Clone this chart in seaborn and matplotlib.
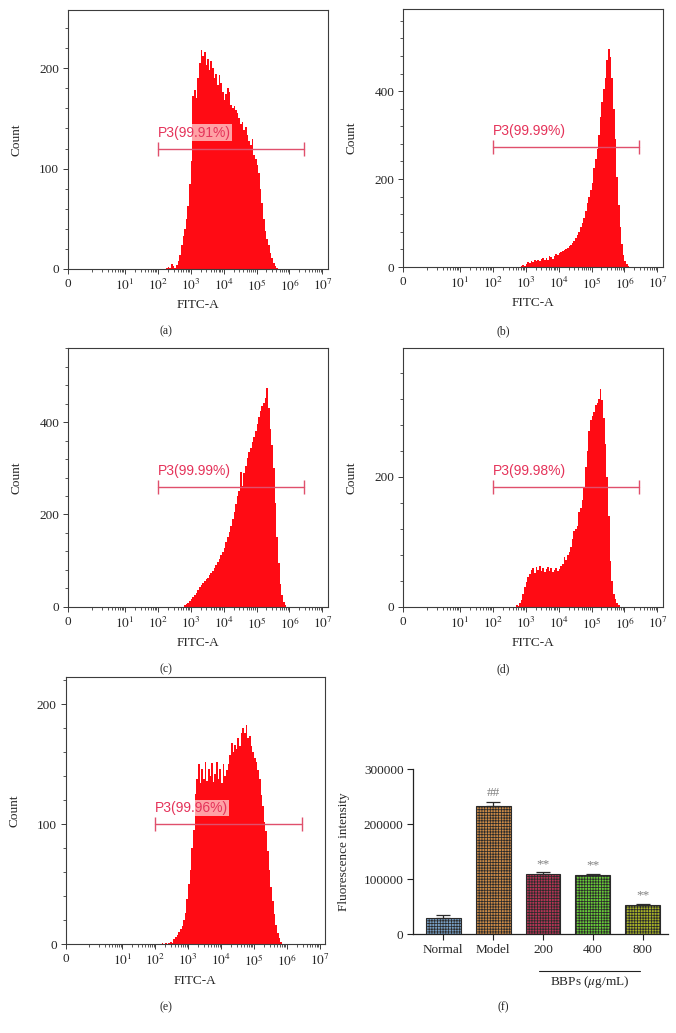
import numpy as np
import matplotlib
matplotlib.use("Agg")
import matplotlib.pyplot as plt
import matplotlib.ticker as mticker
import matplotlib.transforms as mtransforms
import seaborn as sns

# ---------------- data ----------------
# flow histograms: counts per bin, bins are 0.05 decade wide (log10 FITC-A),
# the first bin starts at *_start
bin_step = 0.05

hist_a_start = 2.20
hist_a = [0, 1, 2, 1, 5, 3, 1, 4, 8, 14, 24, 33, 40, 50, 63, 85, 108, 172, 178, 170,
          190, 205, 218, 212, 216, 203, 209, 198, 207, 200, 190, 194, 183, 193, 185,
          176, 168, 174, 180, 176, 163, 160, 162, 158, 155, 150, 144, 146, 138, 141,
          133, 128, 124, 130, 114, 110, 104, 96, 80, 66, 50, 38, 30, 24, 16, 11, 6,
          3, 1, 0]

hist_b_start = 2.80
hist_b = [0, 2, 5, 3, 8, 12, 10, 14, 12, 15, 13, 17, 14, 18, 20, 16, 21, 17, 24, 22,
          19, 26, 30, 27, 32, 34, 36, 38, 41, 43, 47, 50, 55, 60, 66, 72, 80, 90, 100,
          112, 128, 145, 160, 176, 192, 225, 245, 268, 300, 340, 375, 405, 430, 470,
          495, 478, 430, 360, 290, 205, 140, 90, 52, 28, 14, 6, 2, 0]

hist_c_start = 2.75
hist_c = [0, 3, 5, 9, 13, 17, 20, 26, 30, 36, 42, 48, 52, 56, 60, 63, 68, 72, 78, 84,
          90, 96, 104, 112, 118, 128, 140, 152, 162, 175, 190, 205, 222, 240, 250, 292,
          262, 290, 305, 322, 335, 345, 356, 368, 380, 395, 412, 425, 435, 442, 452,
          475, 430, 385, 350, 300, 225, 150, 95, 50, 25, 10, 4, 0]

hist_d_start = 2.65
hist_d = [0, 2, 1, 5, 10, 20, 30, 38, 46, 50, 56, 59, 52, 61, 57, 62, 55, 60, 54, 58,
          61, 55, 59, 54, 57, 60, 55, 58, 62, 66, 76, 72, 80, 84, 92, 104, 116, 120,
          124, 146, 152, 165, 185, 215, 240, 270, 288, 294, 300, 310, 314, 320, 336,
          318, 290, 250, 200, 140, 70, 40, 20, 12, 6, 2, 0]

hist_e_start = 2.15
hist_e = [0, 1, 0, 1, 0, 1, 2, 1, 4, 6, 8, 10, 13, 15, 20, 26, 38, 50, 62, 80, 95,
          125, 138, 150, 134, 146, 138, 152, 136, 146, 140, 151, 135, 142, 152, 138,
          146, 134, 150, 140, 145, 150, 158, 168, 160, 166, 163, 172, 165, 176, 180,
          176, 183, 172, 174, 165, 160, 155, 152, 145, 138, 124, 115, 102, 94, 78, 62,
          48, 36, 25, 16, 9, 5, 2, 0]

gate_labels = ["P3(99.91%)", "P3(99.99%)", "P3(99.99%)", "P3(99.98%)", "P3(99.96%)"]
gate_range = [1e2, 2.8e6]
gate_y = [120, 273, 259, 185, 100]
count_max = [258, 586, 560, 398, 223]
count_major = [[0, 100, 200], [0, 200, 400], [0, 200, 400], [0, 200], [0, 100, 200]]
count_minor = [20, 40, 40, 40, 20]
decade_ticks = [0, 1e1, 1e2, 1e3, 1e4, 1e5, 1e6, 1e7]
decade_labels = ["0", "$10^{1}$", "$10^{2}$", "$10^{3}$", "$10^{4}$",
                 "$10^{5}$", "$10^{6}$", "$10^{7}$"]

# bar chart (f)
groups = ["Normal", "Model", "200", "400", "800"]
intensity = [29000, 232000, 110000, 107000, 53000]
intensity_err = [5000, 9000, 2000, 3000, 2000]
signif = ["", "##", "**", "**", "**"]
bar_colors = ["#6a9fd0", "#e08a30", "#c8204a", "#5ee020", "#b8c810"]
intensity_ticks = [0, 100000, 200000, 300000]

# ---------------- style ----------------
sns.set_style("ticks")
plt.rcParams["font.family"] = ["Liberation Serif", "DejaVu Serif"]
plt.rcParams["mathtext.fontset"] = "stix"
plt.rcParams["hatch.linewidth"] = 0.55

red = "#ff0b14"
gate_col = "#e0506c"
gate_txt = "#e5335a"
spine_col = "#3c3c3c"
fs = 9.5

fig = plt.figure(figsize=(6.76, 10.33), dpi=100)

# axes boxes (left, bottom, width, height) in figure fraction
boxes = [
    [0.1010, 0.7396, 0.3837, 0.2507],
    [0.5966, 0.7415, 0.3837, 0.2495],
    [0.1010, 0.4127, 0.3837, 0.2501],
    [0.5966, 0.4127, 0.3837, 0.2501],
    [0.0972, 0.0859, 0.3836, 0.2590],
]
hists = [(hist_a_start, hist_a), (hist_b_start, hist_b), (hist_c_start, hist_c),
         (hist_d_start, hist_d), (hist_e_start, hist_e)]

minor_pos = [k * 10.0 ** p for p in range(0, 7) for k in range(1, 10) if not (k == 1 and p > 0)]

for i, (start, counts) in enumerate(hists):
    ax = fig.add_axes(boxes[i])

    edges = 10 ** (start + bin_step * np.arange(len(counts) + 1))
    centers = np.sqrt(edges[:-1] * edges[1:])
    sns.histplot(x=centers, weights=counts, bins=list(edges), element="step", fill=True,
                 color=red, alpha=1, linewidth=0, ax=ax)
    # biexponential-like FITC-A axis (0, then decades)
    ax.set_xscale("symlog", linthresh=1, linscale=0.65)

    ax.set_xlim(0, 1.45e7)
    ax.set_ylim(0, count_max[i])

    ax.set_xticks(decade_ticks)
    ax.set_xticklabels(decade_labels, fontsize=fs)
    ax.xaxis.set_minor_locator(mticker.FixedLocator(minor_pos))
    ax.set_yticks(count_major[i])
    ax.set_yticklabels([str(v) for v in count_major[i]], fontsize=fs)
    ax.yaxis.set_minor_locator(mticker.MultipleLocator(count_minor[i]))
    ax.tick_params(which="major", length=3.5, width=0.7, color=spine_col, pad=3)
    ax.tick_params(which="minor", length=2.5, width=0.6, color=spine_col)
    ax.tick_params(axis="x", which="minor", labelbottom=False)
    for s in ax.spines.values():
        s.set_color(spine_col)
        s.set_linewidth(0.8)

    ax.set_xlabel("FITC-A", fontsize=fs, labelpad=4)
    ax.set_ylabel("Count", fontsize=fs, labelpad=12)

    # gate P3
    gy = gate_y[i]
    ax.plot(gate_range, [gy, gy], color=gate_col, lw=1.0)
    ax.plot(gate_range, [gy, gy], ls="none", marker="|", ms=10, mew=1.0, color=gate_col)
    ax.annotate(gate_labels[i], (gate_range[0], gy), xytext=(0, 6.5),
                textcoords="offset points", ha="left", va="bottom",
                color=gate_txt, fontsize=10, family=["Liberation Sans", "DejaVu Sans"],
                bbox=dict(boxstyle="square,pad=0.08", fc="white", ec="none", alpha=0.62))

# ---------------- (f) bar chart ----------------
axf = fig.add_axes([0.6114, 0.0958, 0.3763, 0.1597])
sns.barplot(x=groups, y=intensity, hue=groups, palette=bar_colors, legend=False,
            width=0.7, edgecolor="#2b2b2b", linewidth=0.8, hatch="+" * 6, ax=axf)
xpos = np.arange(len(groups))
axf.errorbar(xpos, intensity, yerr=[np.zeros(len(groups)), intensity_err], fmt="none",
             ecolor="#2b2b2b", elinewidth=0.9, capsize=5, capthick=0.9, zorder=1)
for xi, yv, ev, mk in zip(xpos, intensity, intensity_err, signif):
    if mk:
        axf.annotate(mk, (xi, yv + ev), xytext=(0, 1.5), textcoords="offset points",
                     ha="center", va="bottom", color="#808080", fontsize=fs)

axf.set_xlim(-0.6, 4.5)
axf.set_ylim(0, 300000)
axf.set_yticks(intensity_ticks)
axf.set_yticklabels([str(v) for v in intensity_ticks], fontsize=fs)
axf.set_xticks(xpos)
axf.set_xticklabels(groups, fontsize=fs)
axf.tick_params(length=4, width=0.8, color="#222222", pad=3)
sns.despine(ax=axf)
for s in ["left", "bottom"]:
    axf.spines[s].set_color("#222222")
    axf.spines[s].set_linewidth(0.9)
axf.set_ylabel("Fluorescence intensity", fontsize=fs, labelpad=10)
axf.set_xlabel("")

trans = mtransforms.blended_transform_factory(axf.transData, axf.transAxes)
axf.plot([1.93, 3.95], [-0.222, -0.222], transform=trans, clip_on=False,
         color="#222222", lw=0.8)
axf.text(2.93, -0.29, "BBPs ($\\mu$g/mL)", transform=trans, ha="center", va="center",
         fontsize=fs)

# panel letters
letters = ["(a)", "(b)", "(c)", "(d)", "(e)", "(f)"]
letter_xy = [(0.2450, 0.6789), (0.7441, 0.6789), (0.2450, 0.3520),
             (0.7441, 0.3520), (0.2450, 0.0245), (0.7441, 0.0245)]
for lab, (lx, ly) in zip(letters, letter_xy):
    fig.text(lx, ly, lab, ha="center", va="center", fontsize=8.5)

fig.savefig("out.png", dpi=100)
